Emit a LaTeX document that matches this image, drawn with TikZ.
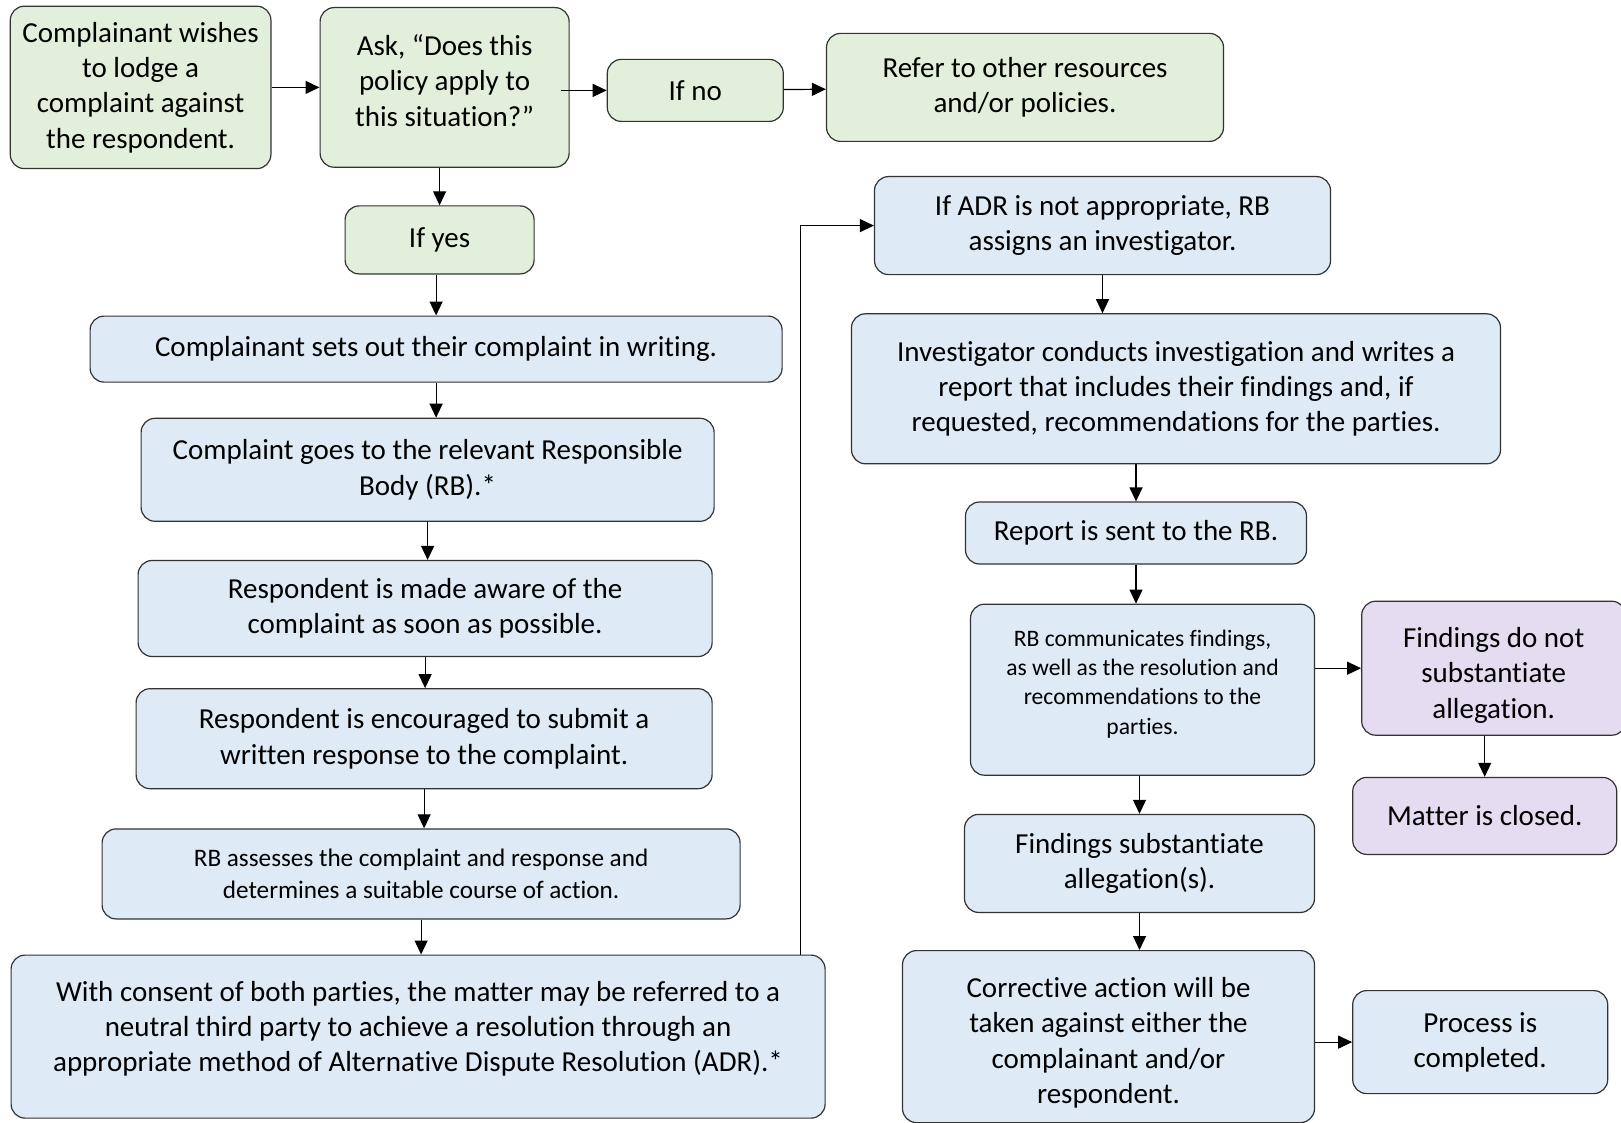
\documentclass[tikz,border=0pt]{standalone}
\usepackage{fontspec}
\setmainfont{Carlito}[Ligatures=NoCommon]
\usetikzlibrary{positioning,arrows.meta}
\definecolor{boxgreen}{HTML}{E2EFDA}
\definecolor{boxblue}{HTML}{DEEBF7}
\definecolor{boxpurple}{HTML}{E6DCF2}

\begin{document}
\begin{tikzpicture}

\tikzstyle{bx} = [rectangle, rounded corners=7pt, draw=black!80, line width=0.6pt, align=center, inner sep=2pt, font=\fontsize{14.5}{17.7}\selectfont]
\tikzstyle{gr} = [bx, fill=boxgreen]
\tikzstyle{bl} = [bx, fill=boxblue]
\tikzstyle{pu} = [bx, fill=boxpurple]
\tikzstyle{arr} = [-{Triangle[length=7pt,width=6.5pt]}, line width=0.6pt]
\useasboundingbox (0,0) rectangle (810.5pt,-561.5pt);

\node (wish) [gr, minimum width=130.3pt, minimum height=81.2pt] at (70.3pt,-43.7pt) {Complainant wishes\\to lodge a\\complaint against\\the respondent.};
\node (ask) [gr, right=24pt of wish, minimum width=124.5pt, minimum height=79.8pt] {Ask, “Does this\\policy apply to\\this situation?”\\[-10.5pt]\mbox{}};
\node (ifno) [gr, right=18.5pt of ask, yshift=-1.5pt, minimum width=88pt, minimum height=31pt] {If no};
\node (refer) [gr, right=21pt of ifno, yshift=1.5pt, minimum width=198.5pt, minimum height=54pt] {Refer to other resources\\and/or policies.};
\node (ifyes) [gr, below=18.75pt of ask, xshift=-2.5pt, minimum width=94.5pt, minimum height=34pt] {If yes};
\node (writing) [bl, below=20.5pt of ifyes, xshift=-1.75pt, minimum width=346pt, minimum height=33pt] {Complainant sets out their complaint in writing.};
\node (goes) [bl, below=17.5pt of writing, xshift=-4.25pt, minimum width=286.5pt, minimum height=51.5pt] {Complaint goes to the relevant Responsible\\Body (RB).*};
\node (aware) [bl, below=19pt of goes, xshift=-1.25pt, minimum width=287pt, minimum height=48pt] {Respondent is made aware of the\\complaint as soon as possible.};
\node (encour) [bl, below=15.5pt of aware, xshift=-0.5pt, minimum width=288pt, minimum height=50pt] {Respondent is encouraged to submit a\\written response to the complaint.};
\node (assess) [bl, below=19.5pt of encour, xshift=-1.5pt, minimum width=319pt, minimum height=45pt, font=\fontsize{12.6}{16}\selectfont] {RB assesses the complaint and response and\\determines a suitable course of action.};
\node (adr) [bl, below=17.5pt of assess, xshift=-1.5pt, minimum width=407pt, minimum height=81.5pt] {With consent of both parties, the matter may be referred to a\\neutral third party to achieve a resolution through an\\appropriate method of Alternative Dispute Resolution (ADR).*\\[-7.5pt]\mbox{}};

% investigation side
\node (noadr) [bl, below=17pt of refer, xshift=38.75pt, minimum width=228pt, minimum height=49pt] {If ADR is not appropriate, RB\\assigns an investigator.};
\node (invest) [bl, below=19pt of noadr, xshift=36.75pt, minimum width=324.5pt, minimum height=75pt] {Investigator conducts investigation and writes a\\report that includes their findings and, if\\requested, recommendations for the parties.};
\node (report) [bl, below=18.5pt of invest, xshift=-20pt, minimum width=170.5pt, minimum height=31pt] {Report is sent to the RB.};
\node (comm) [bl, below=19.5pt of report, xshift=3.25pt, minimum width=172pt, minimum height=85.5pt, font=\fontsize{11.8}{14.7}\selectfont] {RB communicates findings,\\as well as the resolution and\\recommendations to the\\parties.\\[-7.1pt]\mbox{}};
\node (notsub) [pu, right=23pt of comm, yshift=10.75pt, minimum width=132pt, minimum height=67pt] {\mbox{}\\[-0.5pt]Findings do not\\substantiate\\allegation.};
\node (closed) [pu, below=20.5pt of notsub, xshift=-4.5pt, minimum width=132pt, minimum height=38.5pt] {Matter is closed.};
\node (subst) [bl, below=19pt of comm, xshift=-1.5pt, minimum width=175pt, minimum height=49pt] {Findings substantiate\\allegation(s).};
\node (correct) [bl, below=18.5pt of subst, xshift=-15.5pt, minimum width=206pt, minimum height=86pt] {\mbox{}\\[-1.5pt]Corrective action will be\\taken against either the\\complainant and/or\\respondent.};
\node (done) [bl, right=18.5pt of correct, yshift=-2.75pt, minimum width=127.5pt, minimum height=51.5pt] {Process is\\completed.};

\draw[arr] (wish) -- (ask);
\draw[arr] ([xshift=-4.5pt]ask.east |- ifno) -- (ifno);
\draw[arr] (ifno) -- (refer);
\draw[arr] (ifyes |- ask.south) -- (ifyes);
\draw[arr] (writing |- ifyes.south) -- (writing);
\draw[arr] (writing) -- (writing |- goes.north);
\draw[arr] (goes) -- (goes |- aware.north);
\draw[arr] (aware) -- (aware |- encour.north);
\draw[arr] (encour) -- (encour |- assess.north);
\draw[arr] (assess) -- (assess |- adr.north);
\draw[arr] ([xshift=191pt]adr.north) |- (noadr);
\draw[arr] (noadr) -- (noadr |- invest.north);
\draw[arr] (report |- invest.south) -- (report);
\draw[arr] (report) -- (report |- comm.north);
\draw[arr] (comm.east |- notsub) -- (notsub);
\draw[arr] (closed |- notsub.south) -- (closed);
\draw[arr] (subst |- comm.south) -- (subst);
\draw[arr] (subst) -- (subst |- correct.north);
\draw[arr] (correct.east |- done) -- (done);
\end{tikzpicture}
\end{document}
